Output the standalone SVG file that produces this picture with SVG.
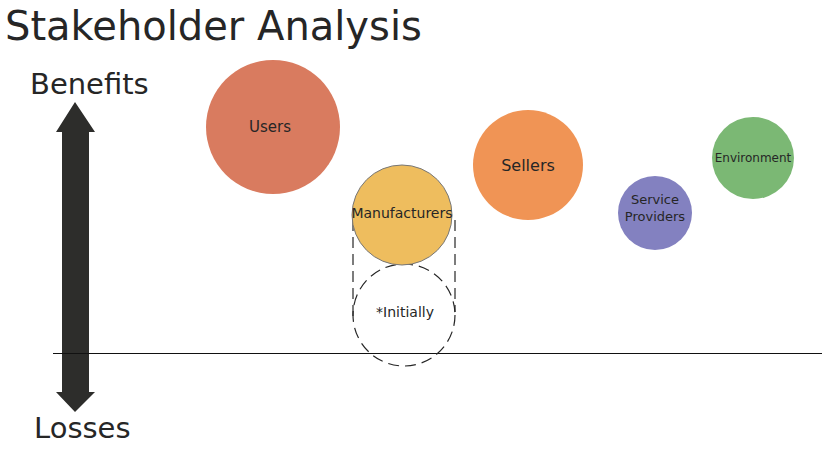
<svg xmlns="http://www.w3.org/2000/svg" width="836" height="451" viewBox="0 0 836 451">
<style>
text{font-family:"DejaVu Sans","Noto Sans",sans-serif;fill:#262626;}
.lbl{text-anchor:middle;dominant-baseline:central;}
.dash{fill:none;stroke:#262626;stroke-width:1.2;stroke-dasharray:11,6;}
</style>
<rect width="836" height="451" fill="#fff"/>
<text x="5" y="40" font-size="40">Stakeholder Analysis</text>
<text x="30" y="94" font-size="29">Benefits</text>
<text x="34" y="438" font-size="29">Losses</text>
<g id="connectors">
<polygon id="axis" fill="#2d2d2b" points="75,102 95,132 89,132 89,392 95,392 75,412 56,392 62,392 62,132 56,132"/>
<line x1="53" y1="353.5" x2="822" y2="353.5" stroke="#111" stroke-width="1"/>
<line class="dash" x1="353" y1="220" x2="353" y2="322"/>
<line class="dash" x1="455" y1="220" x2="455" y2="312"/>
</g>
<g id="initially">
<circle class="dash" cx="404" cy="315" r="51" fill="#fff"/>
<text class="lbl" x="405" y="312" font-size="14">*Initially</text>
</g>
<g id="users">
<circle cx="273" cy="127" r="67" fill="#D97B5F"/>
<text class="lbl" x="270" y="127" font-size="15">Users</text>
</g>
<g id="manufacturers">
<circle cx="402" cy="215" r="50" fill="#EEBD5E" stroke="#777" stroke-width="1"/>
<text class="lbl" x="402" y="213" font-size="14">Manufacturers</text>
</g>
<g id="sellers">
<circle cx="528" cy="165" r="55" fill="#F09455"/>
<text class="lbl" x="528" y="165" font-size="16">Sellers</text>
</g>
<g id="service">
<circle cx="655" cy="213" r="37" fill="#8381C0"/>
<text class="lbl" x="655" y="199" font-size="13">Service</text>
<text class="lbl" x="655" y="216" font-size="13">Providers</text>
</g>
<g id="environment">
<circle cx="753" cy="158" r="41" fill="#7BB874"/>
<text class="lbl" x="753" y="158" font-size="12">Environment</text>
</g>
</svg>
